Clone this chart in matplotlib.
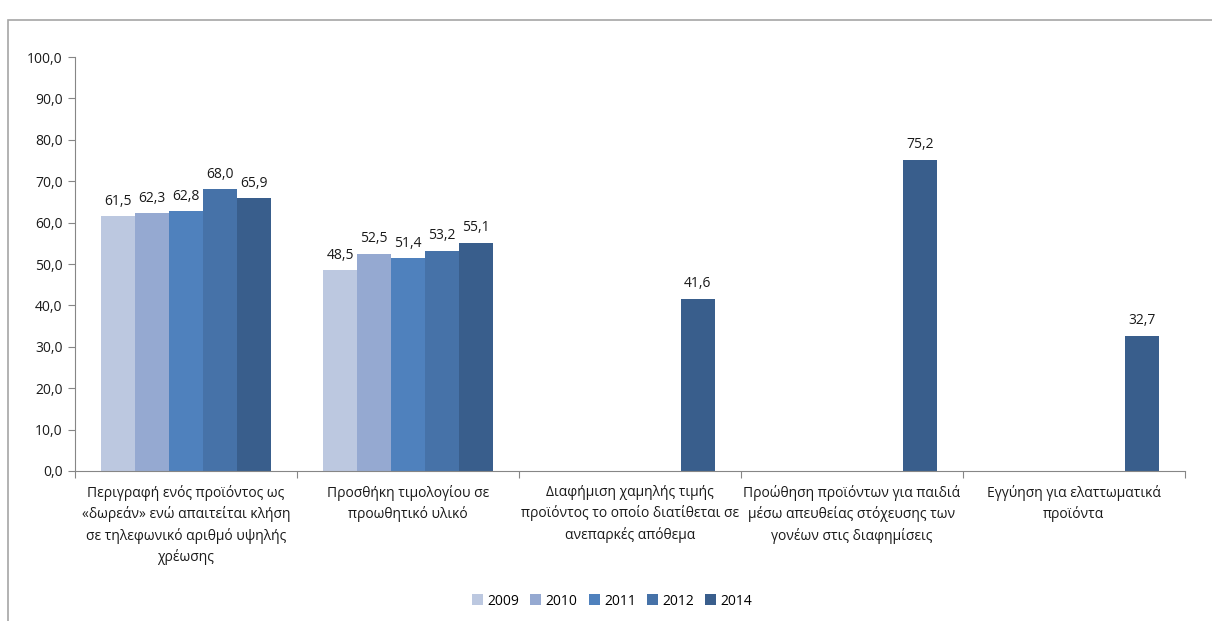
import numpy as np
import matplotlib
matplotlib.use('Agg')
import matplotlib.pyplot as plt
from matplotlib.patches import Rectangle
from matplotlib.ticker import FixedLocator, FuncFormatter

plt.rcParams['font.family'] = ['Open Sans', 'DejaVu Sans']

categories = [
    'Περιγραφή ενός προϊόντος ως\n«δωρεάν» ενώ απαιτείται κλήση\nσε τηλεφωνικό αριθμό υψηλής\nχρέωσης',
    'Προσθήκη τιμολογίου σε\nπροωθητικό υλικό',
    'Διαφήμιση χαμηλής τιμής\nπροϊόντος το οποίο διατίθεται σε\nανεπαρκές απόθεμα',
    'Προώθηση προϊόντων για παιδιά\nμέσω απευθείας στόχευσης των\nγονέων στις διαφημίσεις',
    'Εγγύηση για ελαττωματικά\nπροϊόντα',
]
years = ['2009', '2010', '2011', '2012', '2014']
v2009 = [61.5, 48.5, np.nan, np.nan, np.nan]
v2010 = [62.3, 52.5, np.nan, np.nan, np.nan]
v2011 = [62.8, 51.4, np.nan, np.nan, np.nan]
v2012 = [68.0, 53.2, np.nan, np.nan, np.nan]
v2014 = [65.9, 55.1, 41.6, 75.2, 32.7]
colors = ['#BCC8E0', '#95A9D1', '#4F81BD', '#4672A8', '#395E8C']

series = [v2009, v2010, v2011, v2012, v2014]

fig = plt.figure(figsize=(12.12, 6.21), dpi=100)
# chart border
fig.patches.append(Rectangle((8 / 1212, -0.1), 1.2, 1 - 20 / 621 + 0.1,
                             transform=fig.transFigure, fill=False,
                             edgecolor='#A6A6A6', lw=1.2))

ax = fig.add_axes([75 / 1212, 1 - 471 / 621, 1110 / 1212, 414 / 621])

x = np.arange(len(categories))
w = 0.153
fmt = lambda v: f'{v:.1f}'.replace('.', ',')
for i, (vals, yr, c) in enumerate(zip(series, years, colors)):
    off = (i - 2) * w
    arr = np.array(vals, dtype=float)
    ax.bar(x + off, arr, w, color=c, label=yr, edgecolor='none')
    for xi, v in zip(x + off, arr):
        if not np.isnan(v):
            ax.text(xi, v + 1.8, fmt(v), ha='center', va='bottom',
                    fontsize=10, color='#1a1a1a')

ax.set_xlim(-0.5, 4.5)
ax.set_ylim(0, 100)
ax.set_yticks(np.arange(0, 101, 10))
ax.yaxis.set_major_formatter(FuncFormatter(lambda v, p: fmt(v)))
ax.tick_params(axis='y', length=5, color='#868686', labelsize=10,
               labelcolor='#1a1a1a', pad=4)

ax.xaxis.set_major_locator(FixedLocator(np.arange(-0.5, 5, 1)))
ax.xaxis.set_major_formatter(FuncFormatter(lambda v, p: ''))
ax.xaxis.set_minor_locator(FixedLocator(x))
ax.set_xticklabels(categories, minor=True)
ax.tick_params(axis='x', which='major', length=5, color='#868686')
ax.tick_params(axis='x', which='minor', length=0, pad=10, labelsize=10,
               labelcolor='#1a1a1a')
for t in ax.get_xticklabels(minor=True):
    t.set_linespacing(1.45)
    t.set_va('top')

for s in ['top', 'right']:
    ax.spines[s].set_visible(False)
for s in ['left', 'bottom']:
    ax.spines[s].set_color('#868686')

fig.legend(loc='center', bbox_to_anchor=(0.505, 0.032), ncol=5, frameon=False,
           fontsize=10, handlelength=0.8, handleheight=0.8, handletextpad=0.3,
           columnspacing=0.8)

fig.savefig('out.png', dpi=100)
